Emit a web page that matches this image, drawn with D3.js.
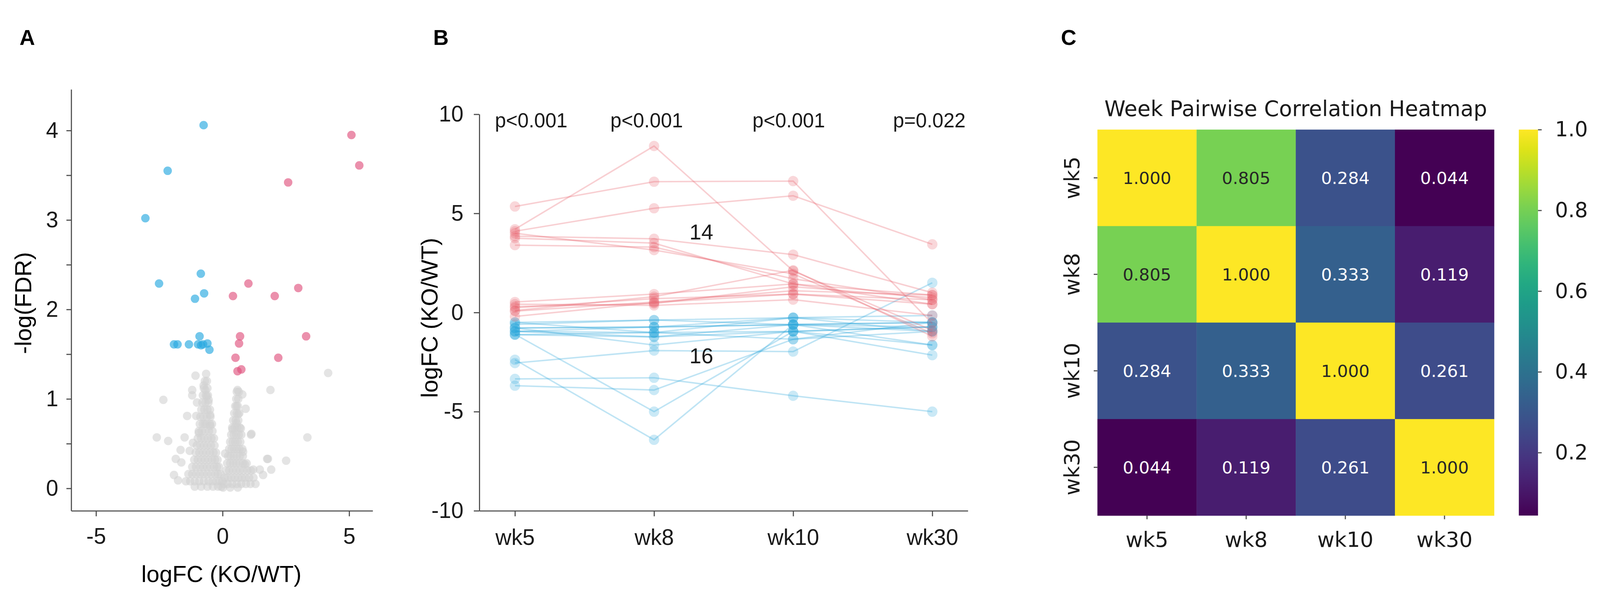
<!DOCTYPE html>
<html>
<head>
<meta charset="utf-8">
<script src="https://cdn.jsdelivr.net/npm/d3@7"></script>
<style>
  html, body { margin: 0; padding: 0; background: #fff; overflow: hidden; }
  svg { display: block; width: 100vw; height: 100vh; }
</style>
</head>
<body>
<div id="chart"></div>
<script>
const WIDTH = 4336;
const HEIGHT = 1577;

const SANS = '"Liberation Sans", Arial, Helvetica, sans-serif';
const MPL = '"DejaVu Sans", sans-serif';

// ---- panel A: volcano ----
const upFC = [1.02, 0.41, 2.06, 2.99, 0.69, 0.65, 3.30, 0.51, 2.20, 0.59, 0.74, 2.59, 5.09, 5.40];
const upFDR = [2.29, 2.15, 2.15, 2.24, 1.70, 1.62, 1.70, 1.46, 1.46, 1.31, 1.33, 3.42, 3.95, 3.61];
const downFC = [-0.75, -2.17, -3.05, -2.51, -0.86, -0.73, -1.09, -0.91, -1.92, -1.78, -1.33, -0.97, -0.77, -0.60, -0.52, -0.85];
const downFDR = [4.06, 3.55, 3.02, 2.29, 2.40, 2.18, 2.12, 1.70, 1.61, 1.61, 1.61, 1.61, 1.61, 1.62, 1.55, 1.60];

// non-significant genes: sparse points, then the two dense lobes row by row [FDR, [logFC...]]
const nsScatter = [
  [-1.07, 1.26], [-0.65, 1.28], [-0.75, 1.15], [-1.20, 1.10], [-0.68, 1.10], [-1.20, 1.04],
  [-2.34, 0.99], [-1.01, 0.96], [-0.55, 0.99], [-0.62, 1.03], [0.59, 1.10], [0.78, 1.05],
  [1.89, 1.10], [4.17, 1.29], [0.55, 0.92], [0.91, 0.89], [-1.40, 0.81], [-1.04, 0.81],
  [-0.49, 0.82], [-0.71, 0.72], [-0.49, 0.70], [0.62, 0.83], [0.55, 0.73], [0.39, 0.66],
  [0.72, 0.67], [1.14, 0.61], [-2.60, 0.57], [-2.15, 0.53], [-1.50, 0.57], [-0.94, 0.62],
  [-1.17, 0.51], [-1.66, 0.43], [-1.30, 0.42], [-1.85, 0.33], [-1.63, 0.29], [-1.92, 0.15],
  [-1.76, 0.09], [1.76, 0.33], [2.51, 0.31], [3.35, 0.57], [0.81, 0.41], [0.88, 0.27],
  [1.21, 0.21], [1.47, 0.21], [1.92, 0.21], [1.60, 0.15], [0.10, 0.39], [1.79, 0.33], [1.12, 0.60]
];
const nsLeftLobe = [
  [1.20, [-0.70, -0.62]],
  [1.12, [-0.74, -0.60]],
  [1.04, [-0.78, -0.66, -0.58]],
  [0.96, [-0.80, -0.68, -0.56]],
  [0.88, [-0.84, -0.72, -0.60, -0.50]],
  [0.80, [-0.88, -0.76, -0.62, -0.48]],
  [0.72, [-0.90, -0.78, -0.64, -0.50, -0.42]],
  [0.64, [-0.94, -0.82, -0.68, -0.54, -0.40]],
  [0.56, [-0.98, -0.85, -0.72, -0.58, -0.44, -0.34]],
  [0.48, [-1.02, -0.88, -0.74, -0.60, -0.46, -0.32]],
  [0.40, [-1.06, -0.92, -0.78, -0.64, -0.50, -0.36, -0.26]],
  [0.32, [-1.12, -0.98, -0.84, -0.70, -0.56, -0.42, -0.30, -0.20]],
  [0.24, [-1.20, -1.05, -0.90, -0.76, -0.62, -0.48, -0.34, -0.22, -0.14]],
  [0.16, [-1.35, -1.20, -1.05, -0.90, -0.75, -0.60, -0.45, -0.30, -0.18, -0.08]],
  [0.08, [-1.45, -1.28, -1.10, -0.92, -0.74, -0.56, -0.40, -0.25, -0.12, 0.00]],
  [0.02, [-1.10, -0.85, -0.60, -0.38, -0.18, -0.05]]
];
const nsRightLobe = [
  [1.08, [0.56, 0.64]],
  [1.00, [0.54, 0.62]],
  [0.92, [0.50, 0.60]],
  [0.84, [0.46, 0.56, 0.66]],
  [0.76, [0.42, 0.52, 0.62]],
  [0.68, [0.38, 0.48, 0.58, 0.68]],
  [0.60, [0.34, 0.44, 0.54, 0.64, 0.74]],
  [0.52, [0.30, 0.40, 0.50, 0.60, 0.70]],
  [0.44, [0.26, 0.36, 0.46, 0.56, 0.66, 0.78]],
  [0.36, [0.22, 0.32, 0.44, 0.56, 0.68, 0.80]],
  [0.28, [0.18, 0.30, 0.42, 0.54, 0.66, 0.80, 0.95]],
  [0.20, [0.14, 0.26, 0.40, 0.54, 0.68, 0.82, 0.98, 1.12]],
  [0.12, [0.08, 0.20, 0.34, 0.48, 0.62, 0.76, 0.90, 1.05, 1.22]],
  [0.05, [0.05, 0.20, 0.38, 0.56, 0.74, 0.92, 1.10, 1.30]],
  [0.01, [0.02, 0.30, 0.60]]
];
const volcanoXTicks = [-5, 0, 5];
const volcanoYTicks = [0, 0.5, 1, 1.5, 2, 2.5, 3, 3.5, 4];

// ---- panel B: logFC over weeks ----
const weeks = ['wk5', 'wk8', 'wk10', 'wk30'];
const pLabels = ['p<0.001', 'p<0.001', 'p<0.001', 'p=0.022'];
const upGenes = [
  [4.20, 8.40, 2.10, -0.90],
  [5.35, 6.60, 6.63, -0.55],
  [4.10, 5.26, 5.89, 3.44],
  [3.85, 3.72, 2.92, 1.00],
  [3.75, 3.50, 1.44, 0.88],
  [4.00, 3.15, 1.95, -1.05],
  [3.40, 3.30, 1.70, 0.64],
  [0.53, 0.93, 1.44, 0.42],
  [0.24, 0.70, 0.93, 0.64],
  [0.07, 0.53, 1.10, 0.88],
  [0.42, 0.36, 0.65, -0.15],
  [-0.20, 0.50, 0.93, 0.42],
  [0.10, 0.80, 2.13, -1.20],
  [0.30, 0.45, 1.30, 0.75]
];
const downGenes = [
  [-2.38, -6.42, -0.60, -0.50],
  [-1.10, -5.00, -0.95, -0.73],
  [-3.35, -3.29, -4.20, -5.00],
  [-3.69, -3.91, -1.35, -0.95],
  [-2.55, -1.92, -1.97, 1.50],
  [-0.50, -0.38, -0.26, -0.15],
  [-0.78, -0.73, -0.61, -0.50],
  [-0.95, -1.01, -0.95, -0.73],
  [-1.12, -1.23, -0.61, -1.64],
  [-0.78, -1.64, -0.95, -2.15],
  [-0.95, -0.73, -0.26, -0.95],
  [-0.50, -1.01, -1.35, -0.50],
  [-0.78, -0.73, -0.61, -0.73],
  [-0.95, -1.23, -0.95, -1.64],
  [-1.12, -1.01, -0.26, -0.50],
  [-0.60, -0.38, -0.61, -0.95]
];
const countLabels = ['14', '16'];
const countLabelY = [4.08, -2.18];
const lineYTicks = [-10, -5, 0, 5, 10];

// ---- panel C: correlation heatmap ----
const corrMatrix = [
  [1.000, 0.805, 0.284, 0.044],
  [0.805, 1.000, 0.333, 0.119],
  [0.284, 0.333, 1.000, 0.261],
  [0.044, 0.119, 0.261, 1.000]
];
const colorbarTicks = [0.2, 0.4, 0.6, 0.8, 1.0];

// viewBox so the whole figure fits whatever viewport the browser really has
const svg = d3.select('#chart').append('svg')
  .attr('viewBox', `0 0 ${WIDTH} ${HEIGHT}`)
  .attr('preserveAspectRatio', 'xMidYMid meet')
  .style('background', '#fff');

function styleAxis(g, size, family) {
  g.attr('font-size', size).attr('font-family', family);
  g.selectAll('path, line').attr('stroke', '#4d4d4d').attr('stroke-width', 3);
  g.selectAll('text').attr('fill', '#1a1a1a');
}

function panelLabel(text, x) {
  svg.append('text')
    .attr('x', x).attr('y', 76)
    .attr('text-anchor', 'middle')
    .attr('font-family', SANS)
    .attr('font-weight', 'bold')
    .attr('font-size', 58)
    .text(text);
}

// ================= A =================
const xA = d3.scaleLinear().domain([-5.98, 5.93]).range([193, 1010]);
const yA = d3.scaleLinear().domain([-0.25, 4.46]).range([1338, 196]);

const nsPoints = nsScatter.slice();
nsLeftLobe.concat(nsRightLobe).forEach(([fdr, xs]) => xs.forEach(fc => nsPoints.push([fc, fdr])));

const gA = svg.append('g');
gA.append('g').selectAll('circle')
  .data(nsPoints)
  .enter()
  .append('circle')
  .attr('cx', d => xA(d[0]))
  .attr('cy', d => yA(d[1]))
  .attr('r', 11.5)
  .attr('fill', '#d2d2d2')
  .attr('fill-opacity', 0.6);

gA.append('g').selectAll('circle')
  .data(downFC.map((fc, i) => [fc, downFDR[i]]))
  .enter()
  .append('circle')
  .attr('cx', d => xA(d[0]))
  .attr('cy', d => yA(d[1]))
  .attr('r', 11.5)
  .attr('fill', '#28a9e0')
  .attr('fill-opacity', 0.65);

gA.append('g').selectAll('circle')
  .data(upFC.map((fc, i) => [fc, upFDR[i]]))
  .enter()
  .append('circle')
  .attr('cx', d => xA(d[0]))
  .attr('cy', d => yA(d[1]))
  .attr('r', 11.5)
  .attr('fill', '#e0557f')
  .attr('fill-opacity', 0.65);

gA.append('g')
  .attr('transform', 'translate(193,0)')
  .call(d3.axisLeft(yA).tickValues(volcanoYTicks).tickSize(13).tickPadding(22)
    .tickSizeOuter(0).tickFormat(d => Number.isInteger(d) ? String(d) : ''))
  .call(g => styleAxis(g, 60, SANS));

gA.append('g')
  .attr('transform', 'translate(0,1338)')
  .call(d3.axisBottom(xA).tickValues(volcanoXTicks)
    .tickSize(15).tickPadding(32).tickSizeOuter(0).tickFormat(d => String(d)))
  .call(g => styleAxis(g, 60, SANS));

gA.append('text')
  .attr('x', 600).attr('y', 1531)
  .attr('text-anchor', 'middle')
  .attr('font-family', SANS).attr('font-size', 63)
  .text('logFC (KO/WT)');

gA.append('text')
  .attr('transform', 'translate(85,775) rotate(-90)')
  .attr('text-anchor', 'middle')
  .attr('font-family', SANS).attr('font-size', 63)
  .text('-log(FDR)');

panelLabel('A', 74);

// ================= B =================
const xB = d3.scalePoint().domain(weeks).range([1299, 2623]).padding(0.256);
const yB = d3.scaleLinear().domain([-10, 10]).range([1338, 263.5]);
const line = d3.line().x((d, i) => xB(weeks[i])).y(d => yB(d));

const gB = svg.append('g');

function drawGenes(data, color) {
  const grp = gB.append('g');
  grp.selectAll('path')
    .data(data)
    .enter()
    .append('path')
    .attr('d', line)
    .attr('fill', 'none')
    .attr('stroke', color)
    .attr('stroke-width', 4)
    .attr('stroke-opacity', 0.3);
  grp.selectAll('g')
    .data(data)
    .enter()
    .append('g')
    .selectAll('circle')
    .data(d => d)
    .enter()
    .append('circle')
    .attr('cx', (d, i) => xB(weeks[i]))
    .attr('cy', d => yB(d))
    .attr('r', 14)
    .attr('fill', color)
    .attr('fill-opacity', 0.25);
}

drawGenes(downGenes, '#2aa7dc');
drawGenes(upGenes, '#e8606a');

gB.append('g')
  .attr('transform', 'translate(1299,0)')
  .call(d3.axisLeft(yB).tickValues(lineYTicks).tickSize(15).tickPadding(28)
    .tickSizeOuter(0).tickFormat(d => String(d)))
  .call(g => styleAxis(g, 60, SANS));

gB.append('g')
  .attr('transform', 'translate(0,1338)')
  .call(d3.axisBottom(xB).tickSize(15).tickPadding(35).tickSizeOuter(0))
  .call(g => styleAxis(g, 60, SANS));

const PVAL_DX = [44, -20, -12, -8];
gB.append('g').selectAll('text')
  .data(pLabels)
  .enter()
  .append('text')
  .attr('x', (d, i) => xB(weeks[i]) + PVAL_DX[i])
  .attr('y', 299)
  .attr('text-anchor', 'middle')
  .attr('font-family', SANS).attr('font-size', 54)
  .attr('fill', '#1a1a1a')
  .text(d => d);

const step = xB.step();
gB.append('g').selectAll('text')
  .data(countLabels)
  .enter()
  .append('text')
  .attr('x', xB('wk8') + step * 0.34)
  .attr('y', (d, i) => yB(countLabelY[i]))
  .attr('dy', '0.36em')
  .attr('text-anchor', 'middle')
  .attr('font-family', SANS).attr('font-size', 58)
  .attr('fill', '#1a1a1a')
  .text(d => d);

gB.append('text')
  .attr('transform', 'translate(1186,815) rotate(-90)')
  .attr('text-anchor', 'middle')
  .attr('font-family', SANS).attr('font-size', 63)
  .text('logFC (KO/WT)');

panelLabel('B', 1195);

// ================= C =================
const xC = d3.scaleBand().domain(weeks).range([2974, 4049]);
const yC = d3.scaleBand().domain(weeks).range([305, 1351]);
const color = d3.scaleSequential(d3.interpolateViridis).domain([0.044, 1.0]);

const cells = [];
corrMatrix.forEach((row, i) => row.forEach((v, j) => cells.push({ r: weeks[i], c: weeks[j], v })));

const gC = svg.append('g');
gC.append('g').selectAll('rect')
  .data(cells)
  .enter()
  .append('rect')
  .attr('x', d => xC(d.c))
  .attr('y', d => yC(d.r))
  .attr('width', xC.bandwidth() + 0.5)
  .attr('height', yC.bandwidth() + 0.5)
  .attr('fill', d => color(d.v));

gC.append('g').selectAll('text')
  .data(cells)
  .enter()
  .append('text')
  .attr('x', d => xC(d.c) + xC.bandwidth() / 2)
  .attr('y', d => yC(d.r) + yC.bandwidth() / 2)
  .attr('dy', '0.36em')
  .attr('text-anchor', 'middle')
  .attr('font-family', MPL).attr('font-size', 46)
  .attr('fill', d => d.v > 0.6 ? '#262626' : '#ffffff')
  .text(d => d3.format('.3f')(d.v));

gC.append('g')
  .attr('transform', 'translate(0,1351)')
  .call(d3.axisBottom(xC).tickSize(10).tickPadding(34))
  .call(g => styleAxis(g, 57, MPL))
  .call(g => g.select('.domain').remove());

gC.append('g')
  .attr('transform', 'translate(2974,0)')
  .call(d3.axisLeft(yC).tickSize(10))
  .call(g => styleAxis(g, 57, MPL))
  .call(g => g.select('.domain').remove())
  .call(g => g.selectAll('text')
    .attr('transform', 'rotate(-90)')
    .attr('x', 0).attr('y', -49).attr('dy', 0)
    .attr('text-anchor', 'middle'));

gC.append('text')
  .attr('x', (2974 + 4049) / 2).attr('y', 268)
  .attr('text-anchor', 'middle')
  .attr('font-family', MPL).attr('font-size', 58)
  .attr('fill', '#1a1a1a')
  .text('Week Pairwise Correlation Heatmap');

// colorbar
const cbScale = d3.scaleLinear().domain([0.044, 1.0]).range([1351, 305]);
const grad = svg.append('defs').append('linearGradient')
  .attr('id', 'viridis')
  .attr('x1', 0).attr('y1', 1).attr('x2', 0).attr('y2', 0);
grad.selectAll('stop')
  .data(d3.range(0, 1.0001, 0.05))
  .enter()
  .append('stop')
  .attr('offset', d => d)
  .attr('stop-color', d => d3.interpolateViridis(d));

gC.append('rect')
  .attr('x', 4116).attr('y', 305)
  .attr('width', 52).attr('height', 1351 - 305)
  .attr('fill', 'url(#viridis)');

gC.append('g')
  .attr('transform', 'translate(4168,0)')
  .call(d3.axisRight(cbScale).tickValues(colorbarTicks).tickSize(10).tickPadding(36)
    .tickFormat(d3.format('.1f')))
  .call(g => styleAxis(g, 56, MPL))
  .call(g => g.select('.domain').remove());

panelLabel('C', 2896);
</script>
</body>
</html>
